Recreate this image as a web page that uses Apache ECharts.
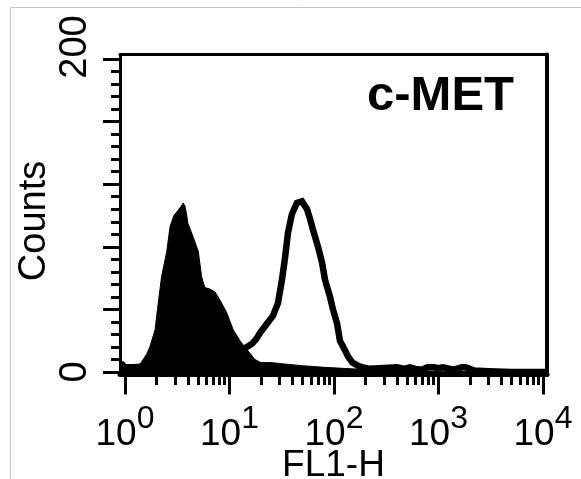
<!DOCTYPE html>
<html>
<head>
<meta charset="utf-8">
<script src="https://cdn.jsdelivr.net/npm/echarts@6/dist/echarts.min.js"></script>
<style>
  html, body { margin: 0; padding: 0; background: #fff; }
  #chart { width: 581px; height: 479px; }
</style>
</head>
<body>
<div id="chart"></div>
<script>
// filled histogram (isotype control), FL1-H channel value -> counts
const ctrlX = [0.9, 0.97, 1.05, 1.2, 1.35, 1.44, 1.6, 1.73, 1.94, 2.08, 2.24, 2.51, 2.7, 2.94, 3.24, 3.45, 3.61, 3.75, 3.9, 4.0, 4.51, 5.03, 5.41, 5.8, 6.5, 7.3, 8.1, 9.4, 10.85, 12.6, 13.6, 15.7, 17.5, 20, 25, 35, 50, 80, 150, 300, 1000, 11000]
const ctrlY = [6.5, 6.5, 4, 4, 4, 6.5, 11, 16, 27, 44, 61, 77, 93, 100, 103.5, 106, 108, 106, 100, 95, 86, 77, 61, 54, 53, 51, 46, 38, 27, 20, 17, 12, 8, 6, 6, 5, 4, 3, 2, 1, 0.5, 0]

// open histogram (c-MET)
const metX = [0.9, 1.2, 2, 3, 5, 8, 10, 12, 13.6, 14.7, 16.4, 18, 19.6, 22.9, 26.1, 29.1, 31.8, 34.0, 36.3, 39.6, 44.2, 49.4, 55.2, 58.9, 62.9, 70.3, 76.8, 82.0, 91.6, 97.8, 107, 114, 127, 136, 150, 170, 185, 220, 300, 400, 470, 530, 600, 700, 780, 900, 1000, 1100, 1200, 1400, 1680, 1800, 1920, 2200, 3000, 5000, 11000]
const metY = [3, 3, 4, 5, 7, 9, 11, 13, 15, 16, 18, 21, 25, 31, 36, 44, 59, 73, 89, 101, 108, 109, 104, 98, 91, 80, 70, 59, 48, 40, 31, 20, 14, 10, 6, 4, 3, 2, 2.5, 3, 2, 3, 2, 1.5, 3, 3, 2.5, 3, 2.5, 1.5, 3, 3, 2.5, 1, 0.5, 0, 0]

// ticks
const xMajor = [1, 10, 100, 1000, 10000]
const xMinor = [2, 3, 4, 5, 6, 7, 8, 9, 20, 30, 40, 50, 60, 70, 80, 90, 200, 300, 400, 500, 600, 700, 800, 900, 2000, 3000, 4000, 5000, 6000, 7000, 8000, 9000]
const xExp = { 1: '0', 10: '1', 100: '2', 1000: '3', 10000: '4' }
const yMajor = [0, 40, 80, 120, 160, 200]
const yMinor = [8, 16, 24, 32, 48, 56, 64, 72, 88, 96, 104, 112, 128, 136, 144, 152, 168, 176, 184, 192]
const yLabels = [0, 200]

const xMin = 0.896, xMax = 10922
const yMin = -1.6, yMax = 202.9

const font = 'Liberation Sans, Arial, sans-serif'
const chart = echarts.init(document.getElementById('chart'))

const pairs = (xs, ys) => xs.map((x, i) => [x, ys[i]])

const option = {
  animation: false,
  backgroundColor: '#fff',
  title: {
    text: 'c-MET',
    left: 367,
    top: 72,
    padding: 0,
    textStyle: { fontFamily: font, fontSize: 49, fontWeight: 'bold', color: '#000' }
  },
  graphic: [{
    type: 'rect',
    shape: { x: 10.5, y: 7.5, width: 700, height: 700 },
    style: { fill: 'none', stroke: '#c4c4c4', lineWidth: 1 },
    silent: true
  }],
  grid: { left: 120, top: 54.5, width: 427, height: 320, outerBoundsMode: 'none', containLabel: false },
  xAxis: [
    {
      type: 'log', min: xMin, max: xMax, position: 'bottom',
      axisLine: { show: true, onZero: false, lineStyle: { color: '#000', width: 5 } },
      axisTick: { show: true, customValues: xMajor, length: 20, lineStyle: { color: '#000', width: 3 } },
      axisLabel: {
        customValues: xMajor, margin: 29, color: '#000',
        formatter: v => '{b|10}{s|' + xExp[Math.round(v)] + '}',
        rich: {
          b: { fontFamily: font, fontSize: 37, verticalAlign: 'bottom' },
          s: { fontFamily: font, fontSize: 32, verticalAlign: 'bottom', padding: [0, 0, 18, 0] }
        }
      },
      splitLine: { show: false },
      minorTick: { show: false },
      name: 'FL1-H', nameLocation: 'middle', nameGap: 73, nameMoveOverlap: false,
      nameTextStyle: { fontFamily: font, fontSize: 37, color: '#000' }
    },
    {
      type: 'log', min: xMin, max: xMax, position: 'bottom',
      axisLine: { show: false, onZero: false },
      axisTick: { show: true, customValues: xMinor, length: 10.5, lineStyle: { color: '#000', width: 3 } },
      axisLabel: { show: false },
      splitLine: { show: false }
    },
    {
      type: 'log', min: xMin, max: xMax, position: 'top',
      axisLine: { show: true, onZero: false, lineStyle: { color: '#000', width: 3 } },
      axisTick: { show: false }, axisLabel: { show: false }, splitLine: { show: false }
    }
  ],
  yAxis: [
    {
      type: 'value', min: yMin, max: yMax, position: 'left',
      axisLine: { show: true, onZero: false, lineStyle: { color: '#000', width: 3 } },
      axisTick: { show: true, customValues: yMajor, length: 17, lineStyle: { color: '#000', width: 3 } },
      axisLabel: {
        customValues: yLabels, rotate: 90, margin: 25, color: '#000',
        formatter: v => v === 200 ? '{t|200}' : '{u|0}',
        rich: {
          t: { fontFamily: font, fontSize: 38, padding: [0, 0, 0, 24] },
          u: { fontFamily: font, fontSize: 38 }
        }
      },
      splitLine: { show: false },
      name: 'Counts', nameLocation: 'middle', nameRotate: 90, nameGap: 66, nameMoveOverlap: false,
      nameTextStyle: { fontFamily: font, fontSize: 38, color: '#000', padding: [0, 13, 0, 0] }
    },
    {
      type: 'value', min: yMin, max: yMax, position: 'left',
      axisLine: { show: false, onZero: false },
      axisTick: { show: true, customValues: yMinor, length: 9, lineStyle: { color: '#000', width: 3 } },
      axisLabel: { show: false },
      splitLine: { show: false }
    },
    {
      type: 'value', min: yMin, max: yMax, position: 'right',
      axisLine: { show: true, onZero: false, lineStyle: { color: '#000', width: 4 } },
      axisTick: { show: false }, axisLabel: { show: false }, splitLine: { show: false }
    }
  ],
  series: [
    {
      type: 'line', xAxisIndex: 0, yAxisIndex: 0,
      data: pairs(ctrlX, ctrlY),
      showSymbol: false,
      lineStyle: { color: '#000', width: 1 },
      areaStyle: { color: '#000', opacity: 1, origin: 'start' },
      z: 2
    },
    {
      type: 'line', xAxisIndex: 0, yAxisIndex: 0,
      data: pairs(metX, metY),
      showSymbol: false,
      lineStyle: { color: '#000', width: 6.5, join: 'miter' },
      z: 3
    }
  ]
}

chart.setOption(option)
</script>
</body>
</html>
